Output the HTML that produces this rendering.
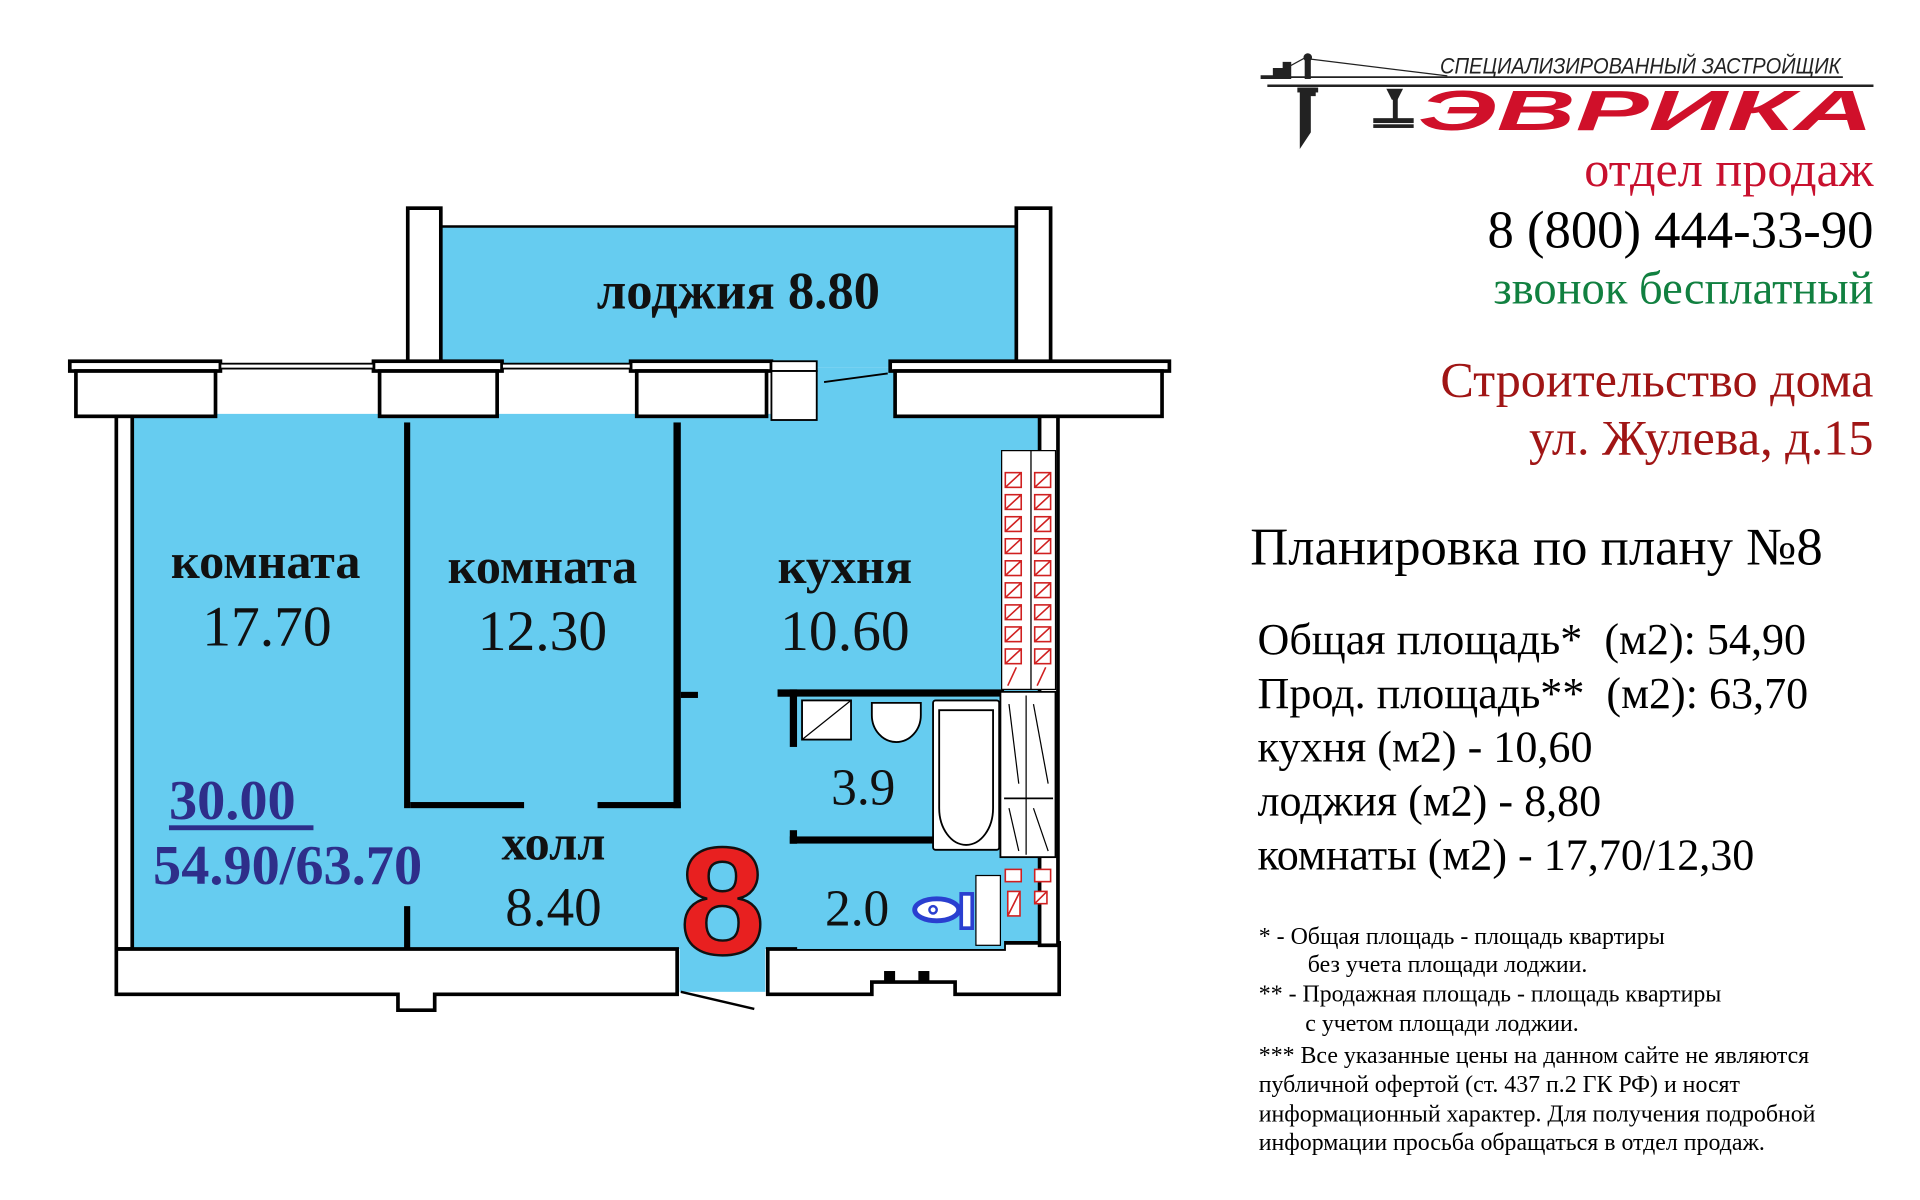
<!DOCTYPE html>
<html><head><meta charset="utf-8"><style>
html,body{margin:0;padding:0;background:#fff;}
svg{display:block;}
text{font-family:"Liberation Serif",serif;}
</style></head><body>
<svg width="1920" height="1200" viewBox="0 0 1568 980" xmlns="http://www.w3.org/2000/svg">
<g stroke="#000" stroke-width="3" fill="#fff">
<rect x="360" y="185" width="470" height="115" fill="#66ccf0" stroke="none"/>
<rect x="108" y="338" width="742" height="437" fill="#66ccf0" stroke="none"/>
<rect x="555" y="770" width="70" height="40" fill="#66ccf0" stroke="none"/>
<rect x="666" y="300" width="64" height="40" fill="#66ccf0" stroke="none"/>
<rect x="333" y="170" width="27" height="128"/>
<rect x="830" y="170" width="28" height="128"/>
<line x1="360" y1="185" x2="830" y2="185" stroke-width="2"/>
<rect x="57" y="295" width="123" height="8"/>
<rect x="62" y="303" width="114" height="37"/>
<rect x="305" y="295" width="105" height="8"/>
<rect x="310" y="303" width="96" height="37"/>
<rect x="515" y="295" width="115" height="8"/>
<rect x="520" y="303" width="106" height="37"/>
<rect x="727" y="295" width="228" height="8"/>
<rect x="731" y="303" width="218" height="37"/>
<rect x="180" y="297" width="125" height="4" stroke-width="1.5"/>
<rect x="410" y="297" width="105" height="4" stroke-width="1.5"/>
<rect x="630" y="295" width="37" height="8" stroke-width="1.5"/>
<rect x="630" y="303" width="37" height="40" stroke-width="1.5"/>
<line x1="673" y1="312" x2="725" y2="305" stroke-width="1.5"/>
<rect x="95" y="340" width="13" height="435"/>
<path d="M95 775 H553 V812 H355 V825 H325 V812 H95 Z"/>
<path d="M627 775 H820 V770 H865 V812 H780 V802 H712 V812 H627 Z"/>
<rect x="722" y="793" width="9" height="9" fill="#000" stroke="none"/>
<rect x="750" y="793" width="9" height="9" fill="#000" stroke="none"/>
<line x1="556" y1="810" x2="616" y2="824" stroke-width="2"/>
<rect x="849" y="340" width="15" height="432"/>
<rect x="330" y="345" width="5" height="315" fill="#000" stroke="none"/>
<rect x="330" y="740" width="5" height="35" fill="#000" stroke="none"/>
<rect x="335" y="655" width="93" height="5" fill="#000" stroke="none"/>
<rect x="488" y="655" width="68" height="5" fill="#000" stroke="none"/>
<rect x="550" y="345" width="6" height="315" fill="#000" stroke="none"/>
<rect x="556" y="565" width="14" height="5" fill="#000" stroke="none"/>
<rect x="635" y="563" width="185" height="6" fill="#000" stroke="none"/>
<rect x="645" y="563" width="6" height="47" fill="#000" stroke="none"/>
<rect x="645" y="683" width="175" height="6" fill="#000" stroke="none"/>
<rect x="645" y="678" width="6" height="11" fill="#000" stroke="none"/>
<rect x="651" y="569" width="169" height="114" fill="#66ccf0" stroke="none"/>
<rect x="651" y="689" width="169" height="86" fill="#66ccf0" stroke="none"/>
<rect x="655" y="572" width="40" height="32" stroke-width="1.5"/>
<line x1="655" y1="604" x2="695" y2="572" stroke-width="1"/>
<path d="M712 574 h40 v10 a20 22 0 0 1 -40 0 z" stroke-width="1.5"/>
<rect x="762" y="572" width="54" height="122" rx="2" stroke-width="1.5"/>
<path d="M767 580 h44 v80 a22 30 0 0 1 -44 0 z" stroke-width="1.5"/>
<rect x="817" y="565" width="45" height="135" stroke-width="1.5"/>
<line x1="820" y1="652" x2="860" y2="652" stroke-width="1.5"/>
<line x1="838" y1="568" x2="838" y2="698" stroke-width="1"/>
<line x1="824" y1="575" x2="832" y2="640" stroke-width="1"/>
<line x1="844" y1="575" x2="856" y2="640" stroke-width="1"/>
<line x1="824" y1="660" x2="832" y2="695" stroke-width="1"/>
<line x1="844" y1="660" x2="856" y2="695" stroke-width="1"/>
<rect x="797" y="715" width="20" height="57" stroke-width="1"/>
<ellipse cx="765" cy="743" rx="18" ry="9" stroke="#2a3fd0" stroke-width="4"/>
<circle cx="762" cy="743" r="3" stroke="#2a3fd0" stroke-width="2"/>
<rect x="785" y="730" width="9" height="28" stroke="#2a3fd0" stroke-width="3"/>
</g>
<g stroke="#d02020" stroke-width="1.3" fill="#fff">
<rect x="818" y="368" width="24" height="195" fill="#fff" stroke="#000" stroke-width="1"/>
<rect x="842" y="368" width="20" height="195" fill="#fff" stroke="#000" stroke-width="1"/>
<g id="v">
<rect x="821" y="386" width="13" height="12"/><line x1="821" y1="398" x2="834" y2="386"/>
<rect x="845" y="386" width="13" height="12"/><line x1="845" y1="398" x2="858" y2="386"/>
</g>
<use href="#v" y="18"/><use href="#v" y="36"/><use href="#v" y="54"/><use href="#v" y="72"/><use href="#v" y="90"/><use href="#v" y="108"/><use href="#v" y="126"/><use href="#v" y="144"/>
<line x1="823" y1="560" x2="830" y2="545"/><line x1="847" y1="560" x2="854" y2="545"/>
<rect x="821" y="710" width="13" height="10"/><rect x="845" y="710" width="13" height="10"/>
<rect x="823" y="728" width="10" height="20"/><line x1="823" y1="748" x2="833" y2="728"/>
<rect x="845" y="728" width="10" height="10"/><line x1="845" y1="738" x2="855" y2="728"/>
</g>
<g font-weight="bold" font-size="41" text-anchor="middle" fill="#111">
<text x="603" y="252" font-size="43">лоджия 8.80</text>
<text x="217" y="472">комната</text>
<text x="443" y="476">комната</text>
<text x="690" y="476">кухня</text>
<text x="452" y="702">холл</text>
</g>
<g font-size="47" text-anchor="middle" fill="#111">
<text x="218" y="527">17.70</text>
<text x="443" y="531">12.30</text>
<text x="690" y="531">10.60</text>
<text x="705" y="657" font-size="42">3.9</text>
<text x="452" y="756" font-size="45">8.40</text>
<text x="700" y="756" font-size="42">2.0</text>
</g>
<g font-weight="bold" fill="#2e2e8a" font-size="46">
<text x="138" y="669">30.00</text>
<text x="125" y="722">54.90/63.70</text>
</g>
<rect x="138" y="674" width="118" height="4" fill="#2e2e8a"/>
<text x="590" y="779" style="font-family:'Liberation Sans',sans-serif" font-weight="bold" font-size="125" text-anchor="middle" fill="#e82020" stroke="#111" stroke-width="2">8</text>
<g stroke="#222" fill="#222">
<line x1="1035" y1="70" x2="1530" y2="70" stroke-width="2"/>
<line x1="1045" y1="63" x2="1505" y2="63" stroke-width="1.5"/>
<line x1="1068" y1="48" x2="1182" y2="62" stroke-width="1"/>
<line x1="1046" y1="58" x2="1068" y2="46" stroke-width="1"/>
<circle cx="1068" cy="47" r="3"/>
<rect x="1066" y="50" width="4" height="14"/>
<path d="M1030 62 h10 v-6 h8 v-5 h6 v13 h-24z"/>
<path d="M1062 72 h12 v6 h-4 v30 l-8 12 z"/>
<rect x="1060" y="72" width="16" height="3"/>
<path d="M1133 73 h12 l-4 8 h-4 z"/><rect x="1138" y="80" width="3" height="18"/>
<rect x="1122" y="97" width="32" height="3"/><rect x="1122" y="102" width="32" height="2"/>
</g>
<text x="1176" y="60" style="font-family:'Liberation Sans',sans-serif" font-style="italic" font-size="18" textLength="327" lengthAdjust="spacingAndGlyphs" fill="#222">СПЕЦИАЛИЗИРОВАННЫЙ ЗАСТРОЙЩИК</text>
<text x="1158" y="106" style="font-family:'Liberation Sans',sans-serif" font-weight="bold" font-style="italic" font-size="46" textLength="372" lengthAdjust="spacingAndGlyphs" fill="#d0102a">ЭВРИКА</text>
<g text-anchor="end">
<text x="1530" y="152" font-size="41" fill="#c8102e">отдел продаж</text>
<text x="1530" y="202" font-size="43" fill="#000">8 (800) 444-33-90</text>
<text x="1530" y="248" font-size="38" fill="#118040">звонок бесплатный</text>
<text x="1530" y="324" font-size="41" fill="#a01515">Строительство дома</text>
<text x="1530" y="371" font-size="41" fill="#a01515">ул. Жулева, д.15</text>
</g>
<text x="1021" y="461" font-size="43" fill="#000">Планировка по плану №8</text>
<g font-size="36" fill="#000">
<text x="1027" y="534" xml:space="preserve">Общая площадь*  (м2): 54,90</text>
<text x="1027" y="578" xml:space="preserve">Прод. площадь**  (м2): 63,70</text>
<text x="1027" y="622">кухня (м2) - 10,60</text>
<text x="1027" y="666">лоджия (м2) - 8,80</text>
<text x="1027" y="710">комнаты (м2) - 17,70/12,30</text>
</g>
<g font-size="19.5" fill="#000" xml:space="preserve">
<text x="1028" y="771">*   - Общая площадь - площадь квартиры</text>
<text x="1068" y="794">без учета площади лоджии.</text>
<text x="1028" y="818">** - Продажная площадь - площадь квартиры</text>
<text x="1066" y="842">с учетом  площади лоджии.</text>
<text x="1028" y="868">*** Все указанные цены на данном сайте не являются</text>
<text x="1028" y="892">публичной офертой  (ст. 437 п.2 ГК РФ) и носят</text>
<text x="1028" y="916">информационный характер.  Для получения подробной</text>
<text x="1028" y="939">информации просьба обращаться в отдел продаж.</text>
</g>
</svg>
</body></html>
